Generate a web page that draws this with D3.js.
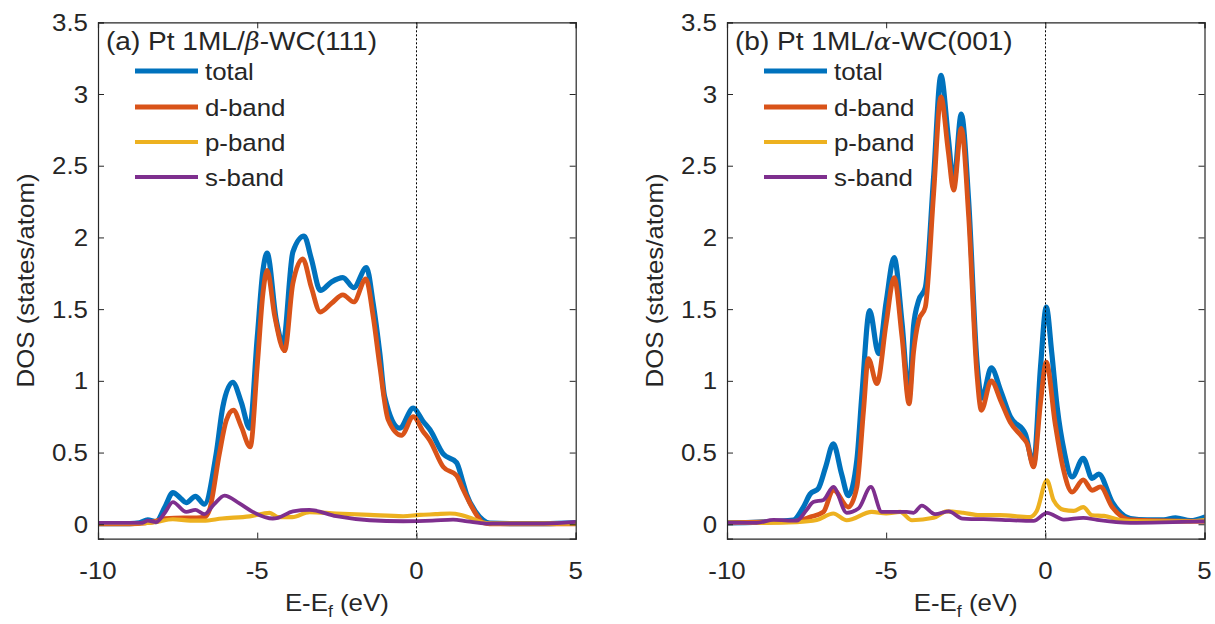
<!DOCTYPE html>
<html><head><meta charset="utf-8">
<script src="https://cdn.jsdelivr.net/npm/d3@7/dist/d3.min.js"></script>
<style>body{margin:0;background:#fff;} svg{display:block;}</style>
</head><body>
<svg id="c" width="1215" height="624"></svg>
<script>
// ---------- data (energy in eV, DOS in states/atom) ----------
const xTicks = [-10, -5, 0, 5];
const yTicks = [0, 0.5, 1, 1.5, 2, 2.5, 3, 3.5];
const seriesNames = ["total", "d-band", "p-band", "s-band"];
const seriesColors = ["#0072BD", "#D95319", "#EDB120", "#7E2F8E"];
const titleA = ["(a) Pt 1ML/", "β", "-WC(111)"];
const titleB = ["(b) Pt 1ML/", "α", "-WC(001)"];

const aTotal = [[-10,0.005],[-9,0.005],[-8.7,0.01],[-8.44,0.03],[-8.18,0.018],[-7.9,0.12],[-7.65,0.22],[-7.4,0.18],[-7.23,0.15],[-6.94,0.195],[-6.66,0.14],[-6.29,0.49],[-6.08,0.82],[-5.77,0.99],[-5.5,0.85],[-5.24,0.67],[-5.0,1.3],[-4.82,1.77],[-4.69,1.89],[-4.4,1.42],[-4.19,1.26],[-3.88,1.9],[-3.53,2.01],[-3.3,1.85],[-3.02,1.63],[-2.67,1.69],[-2.31,1.72],[-1.97,1.65],[-1.57,1.79],[-1.36,1.54],[-1.15,1.19],[-1.0,0.89],[-0.53,0.67],[-0.1,0.81],[0.2,0.72],[0.42,0.66],[0.84,0.49],[1.26,0.43],[1.45,0.3],[1.57,0.21],[1.85,0.09],[2.09,0.03],[2.3,0.008],[3,0.005],[4,0.005],[5,0.01]];
const aD = [[-10,0.003],[-9,0.003],[-8.5,0.01],[-8.2,0.02],[-7.9,0.04],[-7.3,0.045],[-6.9,0.045],[-6.66,0.05],[-6.5,0.1],[-6.19,0.49],[-5.97,0.725],[-5.75,0.795],[-5.5,0.68],[-5.22,0.54],[-5.0,1.1],[-4.82,1.61],[-4.69,1.77],[-4.45,1.45],[-4.14,1.21],[-3.88,1.68],[-3.57,1.85],[-3.3,1.65],[-3.02,1.48],[-2.67,1.54],[-2.31,1.60],[-1.97,1.55],[-1.59,1.71],[-1.36,1.45],[-1.15,1.1],[-0.89,0.73],[-0.47,0.62],[-0.1,0.75],[0.2,0.65],[0.42,0.585],[0.84,0.40],[1.26,0.34],[1.45,0.25],[1.68,0.146],[1.9,0.06],[2.09,0.01],[2.3,0.003],[5,0.003]];
const aP = [[-10,0.008],[-8.6,0.008],[-8.2,0.015],[-7.65,0.035],[-7.1,0.025],[-6.7,0.025],[-6.1,0.04],[-5.24,0.055],[-4.61,0.08],[-4.35,0.05],[-3.9,0.05],[-3.36,0.085],[-2.52,0.075],[-1.47,0.065],[-0.42,0.056],[0.1,0.065],[0.6,0.07],[1.05,0.075],[1.4,0.065],[1.68,0.045],[2.09,0.012],[2.4,0.005],[5,0.005]];
const aS = [[-10,0.01],[-8.6,0.01],[-8.44,0.025],[-8.18,0.015],[-7.9,0.08],[-7.65,0.155],[-7.23,0.086],[-6.94,0.10],[-6.66,0.07],[-6.35,0.14],[-6.03,0.20],[-5.56,0.145],[-5.14,0.086],[-4.51,0.04],[-4.35,0.045],[-3.88,0.09],[-3.36,0.10],[-2.52,0.056],[-1.47,0.028],[-0.42,0.021],[0.5,0.025],[1.15,0.033],[1.6,0.02],[2.2,0.005],[4,0.005],[5,0.016]];

const bTotal = [[-10,0.01],[-9,0.015],[-7.91,0.03],[-7.6,0.12],[-7.39,0.21],[-7.13,0.25],[-6.9,0.4],[-6.66,0.56],[-6.4,0.35],[-6.19,0.2],[-5.92,0.45],[-5.76,0.91],[-5.52,1.49],[-5.24,1.19],[-5.0,1.55],[-4.75,1.86],[-4.5,1.4],[-4.28,0.89],[-4.14,1.38],[-3.98,1.56],[-3.77,1.65],[-3.51,2.42],[-3.28,3.13],[-3.05,2.7],[-2.88,2.38],[-2.64,2.86],[-2.41,2.26],[-2.15,1.14],[-1.99,0.88],[-1.7,1.09],[-1.4,0.93],[-1.1,0.75],[-0.63,0.63],[-0.37,0.42],[-0.15,1.1],[0.03,1.515],[0.2,1.2],[0.37,0.82],[0.6,0.5],[0.84,0.33],[1.19,0.46],[1.47,0.32],[1.68,0.35],[2.1,0.155],[2.67,0.04],[3.2,0.03],[3.72,0.03],[4.09,0.045],[4.56,0.025],[5,0.05]];
const bD = [[-10,0.01],[-9,0.015],[-7.9,0.02],[-7.39,0.05],[-6.97,0.086],[-6.66,0.24],[-6.19,0.12],[-5.92,0.26],[-5.71,0.795],[-5.56,1.155],[-5.29,0.98],[-5.0,1.4],[-4.75,1.72],[-4.5,1.3],[-4.28,0.84],[-4.14,1.2],[-3.98,1.42],[-3.77,1.515],[-3.51,2.3],[-3.28,2.98],[-3.05,2.6],[-2.88,2.33],[-2.64,2.76],[-2.41,2.15],[-2.15,1.05],[-2.01,0.795],[-1.7,1.0],[-1.4,0.86],[-1.1,0.71],[-0.73,0.61],[-0.57,0.56],[-0.37,0.40],[-0.15,0.85],[0.03,1.13],[0.31,0.70],[0.55,0.4],[0.84,0.225],[1.19,0.31],[1.47,0.237],[1.73,0.26],[2.1,0.12],[2.67,0.03],[5,0.02]];
const bP = [[-10,0.01],[-8.86,0.01],[-7.81,0.015],[-7.18,0.03],[-6.66,0.075],[-6.24,0.028],[-5.45,0.086],[-5.0,0.075],[-4.56,0.086],[-4.19,0.028],[-3.51,0.045],[-3.1,0.09],[-2.58,0.08],[-2.06,0.063],[-1.43,0.063],[-0.49,0.05],[-0.27,0.093],[0.05,0.307],[0.26,0.167],[0.58,0.10],[0.89,0.093],[1.19,0.12],[1.47,0.063],[1.84,0.058],[2.36,0.03],[3,0.02],[4.5,0.02],[5,0.03]];
const bS = [[-10,0.01],[-9.07,0.01],[-8.54,0.03],[-7.81,0.025],[-7.5,0.1],[-7.29,0.155],[-6.97,0.17],[-6.66,0.26],[-6.24,0.08],[-5.87,0.11],[-5.48,0.26],[-5.14,0.086],[-4.35,0.086],[-4.14,0.08],[-3.88,0.13],[-3.46,0.07],[-3.04,0.09],[-2.6,0.04],[-1.55,0.033],[-0.37,0.023],[0.05,0.08],[0.58,0.033],[1.19,0.045],[1.63,0.03],[2.67,0.01],[4,0.015],[5,0.02]];

// ---------- drawing ----------
const svg = d3.select("#c");
const FONT = "'Liberation Sans', Arial, Helvetica, sans-serif";
const FS = 23.5, SX = 1.1, AX = "#262626";
const widths = [5.2, 4.8, 4.2, 3.8];

function txt(g, x, y, str, anchor, rot) {
  const t = g.append("text")
    .attr("transform", `translate(${x},${y})` + (rot ? ` rotate(${rot})` : "") + ` scale(${SX},1)`)
    .attr("font-family", FONT).attr("font-size", FS).attr("fill", AX)
    .attr("text-anchor", anchor || "start");
  if (str !== null) t.text(str);
  return t;
}

function panel(left, right, top, bottom, series, title, id) {
  const x = d3.scaleLinear().domain([-10, 5]).range([left, right]);
  const y = d3.scaleLinear().domain([-0.1, 3.5]).range([bottom, top]);
  const g = svg.append("g");

  g.append("clipPath").attr("id", "clip" + id).append("rect")
    .attr("x", left).attr("y", top).attr("width", right - left).attr("height", bottom - top);

  const line = d3.line().x(d => x(d[0])).y(d => y(d[1])).curve(d3.curveMonotoneX);
  const lg = g.append("g").attr("clip-path", `url(#clip${id})`);
  series.forEach((s, i) => {
    lg.append("path").attr("d", line(s)).attr("fill", "none")
      .attr("stroke", seriesColors[i]).attr("stroke-width", widths[i])
      .attr("stroke-linejoin", "round").attr("stroke-linecap", "round");
  });

  // Fermi level
  const xf = Math.round(x(0)) + 0.5;
  g.append("line").attr("x1", xf).attr("x2", xf).attr("y1", top).attr("y2", bottom)
    .attr("stroke", "#000").attr("stroke-width", 1).attr("stroke-dasharray", "2,2");

  // axes (ticks inward on all four sides)
  const ts = 6;
  g.append("g").attr("transform", `translate(0,${bottom})`)
    .call(d3.axisBottom(x).tickValues(xTicks).tickSize(-ts).tickFormat(""));
  g.append("g").attr("transform", `translate(0,${top})`)
    .call(d3.axisTop(x).tickValues(xTicks).tickSize(-ts).tickFormat(""));
  g.append("g").attr("transform", `translate(${left},0)`)
    .call(d3.axisLeft(y).tickValues(yTicks).tickSize(-ts).tickFormat(""));
  g.append("g").attr("transform", `translate(${right},0)`)
    .call(d3.axisRight(y).tickValues(yTicks).tickSize(-ts).tickFormat(""));
  g.selectAll(".domain").attr("stroke", AX).attr("stroke-width", 1.2);
  g.selectAll(".tick line").attr("stroke", AX).attr("stroke-width", 1);

  // tick labels
  xTicks.forEach(v => txt(g, x(v), 579, String(v), "middle"));
  yTicks.forEach(v => txt(g, left - 10, y(v) + 8.5, String(v), "end"));

  // axis titles
  const xl = txt(g, (left + right) / 2, 611, null, "middle");
  xl.append("tspan").text("E-E");
  xl.append("tspan").attr("font-size", 16).attr("dy", 6).text("f");
  xl.append("tspan").attr("dy", -6).text(" (eV)");
  txt(g, left - 64, (top + bottom) / 2, "DOS (states/atom)", "middle", -90);

  // panel title
  const tt = txt(g, left + 8, 50, null, "start").attr("font-size", 25.5);
  tt.append("tspan").text(title[0]);
  tt.append("tspan").attr("font-family", "'DejaVu Serif', 'Liberation Serif', serif")
    .attr("font-style", "italic").attr("font-size", 23.5).text(title[1]);
  tt.append("tspan").text(title[2]);

  // legend
  const ly = [71, 107, 142, 177];
  seriesNames.forEach((n, i) => {
    g.append("line").attr("x1", left + 37).attr("x2", left + 100).attr("y1", ly[i]).attr("y2", ly[i])
      .attr("stroke", seriesColors[i]).attr("stroke-width", widths[i]);
    txt(g, left + 107, ly[i] + 8.5, n, "start");
  });
}

panel(98, 575.7, 22.3, 538.6, [aTotal, aD, aP, aS], titleA, "a");
panel(727, 1204.5, 22.3, 538.6, [bTotal, bD, bP, bS], titleB, "b");
</script>
</body></html>
